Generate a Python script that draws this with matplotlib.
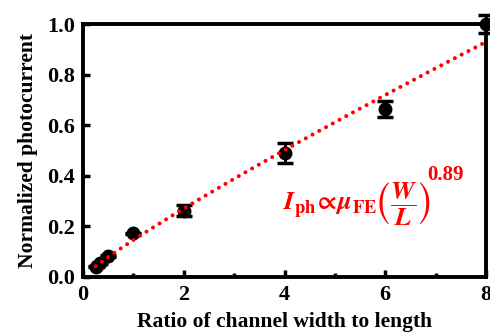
import matplotlib
matplotlib.use("Agg")
import matplotlib.pyplot as plt
import numpy as np
from matplotlib.ticker import MultipleLocator

plt.rcParams['font.family'] = ['Liberation Serif', 'DejaVu Serif']
plt.rcParams['font.weight'] = 'bold'
plt.rcParams['mathtext.fontset'] = 'stix'

ratio = [0.25, 0.33, 0.5, 1, 2, 4, 6, 8]
photocurrent = [0.041, 0.055, 0.083, 0.172, 0.262, 0.49, 0.664, 1.0]
err = [0.003, 0.003, 0.003, 0.003, 0.022, 0.04, 0.03, 0.035]
fit_coef = 0.146
fit_exp = 0.89

fig = plt.figure(figsize=(4.9, 3.35), dpi=100)
ax = fig.add_axes([83/490, 1-277/335, (486-83)/490, (277-24)/335])

xf = np.linspace(0.25, 8, 200)
ax.plot(xf, fit_coef * xf**fit_exp, color='red', linestyle=(0, (0.01, 1.9)),
        linewidth=2.9, dash_capstyle='round', zorder=3)
ax.errorbar(ratio, photocurrent, yerr=err, fmt='o', color='black', ms=9,
            elinewidth=2.2, capsize=5.5, capthick=2.5, zorder=2, clip_on=False)

ax.set_xlim(0, 8)
ax.set_ylim(0, 1.0)
ax.xaxis.set_major_locator(MultipleLocator(2))
ax.xaxis.set_minor_locator(MultipleLocator(1))
ax.set_yticks([0.0, 0.2, 0.4, 0.6, 0.8, 1.0])
ax.set_yticklabels(['0.0', '0.2', '0.4', '0.6', '0.8', '1.0'])
ax.tick_params(axis='both', which='major', direction='in', length=5, width=2.5,
               labelsize=16, pad=6)
ax.tick_params(axis='both', which='minor', direction='in', length=3, width=2.5)
ax.tick_params(top=False, right=False)
for s in ax.spines.values():
    s.set_linewidth(2.8)

ax.set_xlabel('Ratio of channel width to length', fontsize=15.5, fontweight='bold', labelpad=5)
ax.set_ylabel('Normalized photocurrent', fontsize=15.5, fontweight='bold', labelpad=6)

ax.text(3.97, 0.29,
        r'$\mathbfit{I}_{\mathbf{ph}}\!\propto\!\mathbfit{\mu}_{\mathbf{FE}}'
        r'\left(\dfrac{\mathbfit{W}}{\mathbfit{L}}\right)$',
        color='red', fontsize=19, ha='left', va='center')
ax.text(6.83, 0.405, f'{fit_exp:.2f}', color='red', fontsize=15,
        fontweight='bold', ha='left', va='center')

fig.savefig('out.png', dpi=100)
